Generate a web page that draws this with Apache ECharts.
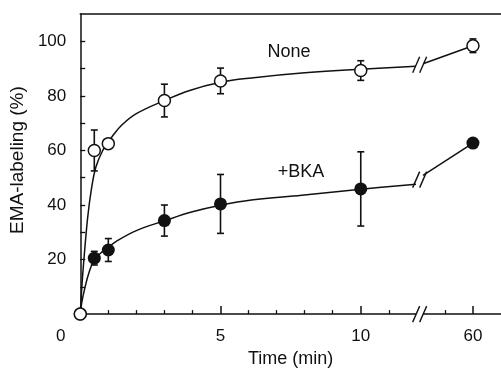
<!DOCTYPE html>
<html>
<head>
<meta charset="utf-8">
<script src="https://cdn.jsdelivr.net/npm/echarts@6/dist/echarts.min.js"></script>
<style>
  html, body { margin: 0; padding: 0; background: #fff; }
  #chart { width: 501px; height: 373px; }
</style>
</head>
<body>
<div id="chart"></div>
<script>
// sampling times (min); 60 sits after the axis break
const times = [0, 0.5, 1, 3, 5, 10, 60];
const noneVals = [0, 60, 62.5, 78.3, 85.5, 89.3, 98.4];
const noneErr = [0, 7.5, 1.5, 6, 4.7, 3.6, 2.5];
const bkaVals = [0, 20.5, 23.5, 34.3, 40.4, 45.9, 62.7];
const bkaErr = [0, 2.5, 4.2, 5.7, 10.8, 13.6, 1.5];

// fitted curves, x given as axis position (break at ~12, 60 min -> 14)
const noneCurve = [[0, 0], [0.05, 9], [0.11, 17.5], [0.26, 35], [0.4, 46], [0.56, 54], [0.8, 60], [1, 63], [1.15, 65.3], [1.5, 69.5], [2, 73.5], [3, 78.3], [3.9, 82], [5, 85], [6.1, 86.6], [7.9, 88.4], [10, 89.8], [11.97, 90.9]];
const noneTail = [[12.22, 91.8], [14, 98.4]];
const bkaCurve = [[0, 0], [0.05, 4], [0.15, 9], [0.32, 15.5], [0.5, 19.8], [0.8, 23], [1, 24.5], [1.27, 26.6], [2, 30.6], [3, 34.2], [4, 37.5], [5, 39.9], [6.1, 41.8], [7.9, 43.6], [10, 45.8], [11.97, 47.6]];
const bkaTail = [[12.22, 50.9], [14, 62.7]];
const breakMarks = [[12.1, 0], [12.1, 91.4], [12.1, 49.3]];

const xTickPos = [0, 5, 10, 14];
const xTickLabels = ['0', '5', '10', '60'];
const xMinorTicks = [1, 2, 3, 4, 6, 7, 8, 9, 11, 13];
const yTickLabels = [20, 40, 60, 80, 100];
const yTicks = [10, 20, 30, 40, 50, 60, 70, 80, 90, 100];

const ink = '#111';
const font = '"Liberation Sans", Arial, sans-serif';

const toPos = t => (t > 30 ? t - 46 : t);

const chart = echarts.init(document.getElementById('chart'), null, { renderer: 'canvas' });

function errorBars(params, api) {
	const x = api.value(0), y = api.value(1), e = api.value(2);
	const top = api.coord([x, y + e]);
	const bot = api.coord([x, y - e]);
	const hw = 3.5;
	const style = { stroke: ink, lineWidth: 1.6 };
	return {
		type: 'group',
		children: [
			{ type: 'line', shape: { x1: top[0], y1: top[1], x2: bot[0], y2: bot[1] }, style },
			{ type: 'line', shape: { x1: top[0] - hw, y1: top[1], x2: top[0] + hw, y2: top[1] }, style },
			{ type: 'line', shape: { x1: bot[0] - hw, y1: bot[1], x2: bot[0] + hw, y2: bot[1] }, style },
		],
	};
}

function breakMark(params, api) {
	const c = api.coord([api.value(0), api.value(1)]);
	const style = { stroke: ink, lineWidth: 1.4 };
	return {
		type: 'group',
		children: [
			{ type: 'rect', shape: { x: c[0] - 3.5, y: c[1] - 2, width: 7, height: 4 }, style: { fill: '#fff' } },
			{ type: 'line', shape: { x1: c[0] - 7, y1: c[1] + 8, x2: c[0], y2: c[1] - 8 }, style },
			{ type: 'line', shape: { x1: c[0], y1: c[1] + 8, x2: c[0] + 7, y2: c[1] - 8 }, style },
		],
	};
}

const lineStyle = { color: ink, width: 1.5 };

const option = {
	backgroundColor: '#fff',
	animation: false,
	textStyle: { fontFamily: font, color: ink },
	grid: { left: 77.5, top: 14.1, width: 424.8, height: 304.4 },
	xAxis: [
		{
			type: 'value',
			min: 0,
			max: 15,
			position: 'bottom',
			name: 'Time (min)',
			nameLocation: 'middle',
			nameGap: 34,
			nameTextStyle: { fontSize: 18, color: ink, fontFamily: font },
			axisLine: { show: true, lineStyle: { color: ink, width: 1.5 } },
			axisTick: { show: true, inside: true, length: 8, customValues: xTickPos, lineStyle: { color: ink, width: 1.5 } },
			axisLabel: {
				customValues: xTickPos,
				margin: 14,
				fontSize: 17,
				color: ink,
				fontFamily: font,
				formatter: v => {
					const label = xTickLabels[xTickPos.indexOf(v)];
					return v === 0 ? '{z|' + label + '}' : label;
				},
				rich: { z: { fontSize: 17, color: ink, fontFamily: font, padding: [0, 39, 0, 0] } },
			},
			splitLine: { show: false },
		},
		{
			type: 'value',
			min: 0,
			max: 15,
			position: 'bottom',
			axisLine: { show: false },
			axisTick: { show: true, inside: true, length: 4, customValues: xMinorTicks, lineStyle: { color: ink, width: 1.3 } },
			axisLabel: { show: false },
			splitLine: { show: false },
		},
		{
			type: 'value',
			min: 0,
			max: 15,
			position: 'top',
			axisLine: { show: true, lineStyle: { color: ink, width: 1.5 } },
			axisTick: { show: false },
			axisLabel: { show: false },
			splitLine: { show: false },
		},
	],
	yAxis: {
		type: 'value',
		min: 0,
		max: 110,
		name: 'EMA-labeling (%)',
		nameLocation: 'middle',
		nameGap: 42,
		nameTextStyle: { fontSize: 19, color: ink, fontFamily: font, padding: [0, 0, 0, 8] },
		axisLine: { show: true, lineStyle: { color: ink, width: 1.5 } },
		axisTick: { show: true, inside: true, length: 5, customValues: yTicks, lineStyle: { color: ink, width: 1.3 } },
		axisLabel: { customValues: yTickLabels, margin: 14, fontSize: 17, color: ink, fontFamily: font },
		splitLine: { show: false },
	},
	graphic: [
		{ type: 'text', x: 289, y: 52.5, style: { text: 'None', font: '18px ' + font, fill: ink, textAlign: 'center', textVerticalAlign: 'middle' } },
		{ type: 'text', x: 301, y: 172, style: { text: '+BKA', font: '18px ' + font, fill: ink, textAlign: 'center', textVerticalAlign: 'middle' } },
	],
	series: [
		{ type: 'line', data: noneCurve, smooth: 0.4, symbol: 'none', lineStyle, z: 2 },
		{ type: 'line', data: noneTail, symbol: 'none', lineStyle, z: 2 },
		{ type: 'line', data: bkaCurve, smooth: 0.4, symbol: 'none', lineStyle, z: 2 },
		{ type: 'line', data: bkaTail, symbol: 'none', lineStyle, z: 2 },
		{ type: 'custom', renderItem: breakMark, data: breakMarks, clip: false, z: 5 },
		{ type: 'custom', renderItem: errorBars, data: times.map((t, i) => [toPos(t), noneVals[i], noneErr[i]]), z: 3 },
		{ type: 'custom', renderItem: errorBars, data: times.map((t, i) => [toPos(t), bkaVals[i], bkaErr[i]]), z: 3 },
		{
			type: 'scatter',
			data: times.map((t, i) => [toPos(t), bkaVals[i]]),
			symbol: 'circle',
			symbolSize: 13,
			itemStyle: { color: ink, opacity: 1 },
			z: 6,
		},
		{
			type: 'scatter',
			data: times.map((t, i) => [toPos(t), noneVals[i]]),
			symbol: 'circle',
			symbolSize: 12,
			itemStyle: { color: '#fff', borderColor: ink, borderWidth: 1.5, opacity: 1 },
			z: 7,
		},
	],
};

chart.setOption(option);
</script>
</body>
</html>
